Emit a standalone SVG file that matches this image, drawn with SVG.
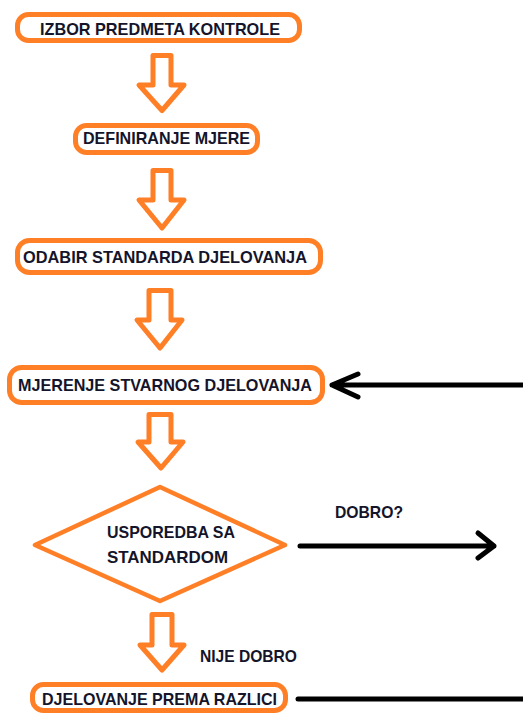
<svg xmlns="http://www.w3.org/2000/svg" width="523" height="713" viewBox="0 0 523 713">
<style>
.box{fill:#fff;stroke:#FF7F27;stroke-width:5}
.blk{fill:#fff;stroke:#FF7F27;stroke-width:5;stroke-linejoin:round}
.dia{fill:#fff;stroke:#FF7F27;stroke-width:4.5;stroke-linejoin:round}
.t{font-family:"Liberation Sans",Arial,sans-serif;font-weight:bold;font-size:17px;fill:#14142a}
.ln{fill:none;stroke:#000;stroke-width:5;stroke-linecap:round;stroke-linejoin:round}
</style>
<rect width="523" height="713" fill="#fff"/>
<g id="connectors">
<path class="blk" d="M153,55.5 H171 V85 H184 L162,110.5 L139,85 H153 Z"/>
<path class="blk" d="M153,170.5 H171 V200 H184 L162,228 L139,200 H153 Z"/>
<path class="blk" d="M149,290.5 H171 V320 H182 L160,348 L137,320 H149 Z"/>
<path class="blk" d="M149,414.5 H171 V442 H183 L161,468 L138,442 H149 Z"/>
<path class="blk" d="M152,614.5 H172 V645 H184 L162,670 L140,645 H152 Z"/>
<path class="ln" d="M523,385 H332 M358,374 L332,385 L358,397"/>
<path class="ln" d="M300,546 H494 M478,533 L494,546 L478,558"/>
<path class="ln" d="M298,699 H523"/>
<text class="t" x="335" y="518" textLength="68" lengthAdjust="spacingAndGlyphs">DOBRO?</text>
<text class="t" x="200" y="662" textLength="97" lengthAdjust="spacingAndGlyphs">NIJE DOBRO</text>
</g>
<g id="n1">
<rect class="box" x="17.5" y="14.5" width="282" height="26" rx="11"/>
<text class="t" x="40" y="35" textLength="240" lengthAdjust="spacingAndGlyphs">IZBOR PREDMETA KONTROLE</text>
</g>
<g id="n2">
<rect class="box" x="75.5" y="125.5" width="182" height="27" rx="11"/>
<text class="t" x="83" y="144" textLength="167" lengthAdjust="spacingAndGlyphs">DEFINIRANJE MJERE</text>
</g>
<g id="n3">
<rect class="box" x="17.5" y="240.5" width="303" height="32" rx="12"/>
<text class="t" x="23" y="263" textLength="284" lengthAdjust="spacingAndGlyphs">ODABIR STANDARDA DJELOVANJA</text>
</g>
<g id="n4">
<rect class="box" x="9.5" y="367.5" width="313" height="35" rx="12"/>
<text class="t" x="18" y="391" textLength="294" lengthAdjust="spacingAndGlyphs">MJERENJE STVARNOG DJELOVANJA</text>
</g>
<g id="n5">
<polygon class="dia" points="160,487 285,545 160,601 35,545"/>
<text class="t" x="107" y="538" textLength="128" lengthAdjust="spacingAndGlyphs">USPOREDBA SA</text>
<text class="t" x="107" y="563" textLength="121" lengthAdjust="spacingAndGlyphs">STANDARDOM</text>
</g>
<g id="n6">
<rect class="box" x="32.5" y="684.5" width="253" height="26" rx="11"/>
<text class="t" x="42" y="705" textLength="235" lengthAdjust="spacingAndGlyphs">DJELOVANJE PREMA RAZLICI</text>
</g>
</svg>
